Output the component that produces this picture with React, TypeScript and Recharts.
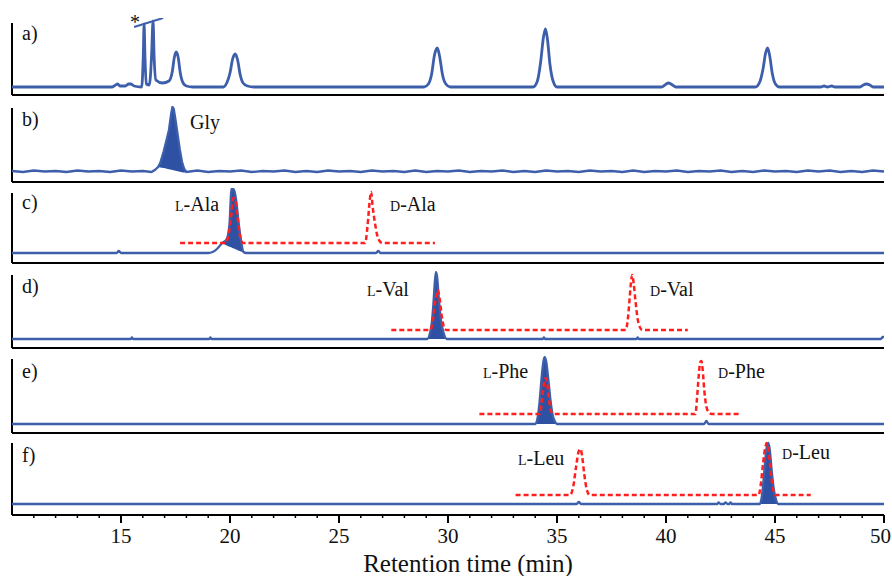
import React from 'react';
import { ComposedChart, Line, Area, XAxis, YAxis, ReferenceLine } from 'recharts';

type Pt = [number, number];
type Band = [number, number, number];

// detector signal, counted upward from each trace's own baseline
const traceA: Pt[] = [
  [10, 0], [14.6, 0], [14.75, 2], [14.85, 3], [14.95, 1], [15.2, 1], [15.35, 3], [15.45, 3], [15.6, 1], [15.95, 0],
  [16.02, 30], [16.06, 63], [16.1, 30], [16.16, 3], [16.3, 2], [16.4, 30], [16.47, 66], [16.52, 30], [16.6, 7],
  [16.9, 4], [17.2, 6], [17.35, 15], [17.45, 30], [17.53, 35], [17.62, 30], [17.72, 14], [17.85, 4], [18.0, 1], [18.3, 0],
  [19.7, 0], [19.85, 4], [20.0, 14], [20.12, 28], [20.24, 33], [20.35, 27], [20.47, 12], [20.6, 4], [20.8, 1], [21.1, 0],
  [28.9, 0], [29.1, 3], [29.25, 13], [29.38, 32], [29.51, 39], [29.62, 30], [29.75, 12], [29.9, 3], [30.1, 0],
  [33.9, 0], [34.1, 6], [34.25, 25], [34.38, 50], [34.47, 58], [34.56, 48], [34.68, 22], [34.82, 6], [35.0, 0],
  [39.8, 0], [39.95, 2], [40.12, 4], [40.3, 2], [40.45, 0],
  [44.1, 0], [44.3, 5], [44.45, 18], [44.57, 34], [44.66, 39], [44.75, 32], [44.88, 13], [45.02, 3], [45.2, 0],
  [47.1, 0], [47.25, 1], [47.4, 0], [47.6, 1], [47.75, 0],
  [48.9, 0], [49.05, 2], [49.2, 3], [49.35, 2], [49.5, 0], [50, 0],
];

const traceB: Pt[] = [
  [10, 1], [10.5, 0], [11, 1.5], [11.5, 0.5], [12, 1], [12.5, 0], [13, 1.5], [13.5, 0.5], [14, 1], [14.5, 0],
  [15, 1.5], [15.5, 0.5], [16, 1], [16.4, 0],
  [16.55, 2], [16.7, 5], [16.8, 9], [16.95, 20], [17.1, 33], [17.2, 42], [17.3, 58], [17.36, 65], [17.42, 63],
  [17.5, 52], [17.6, 37], [17.7, 22], [17.8, 10], [17.9, 3], [18.0, 0],
  [18.5, 1.5], [19, 0], [19.5, 1], [20, 0.5], [20.5, 1.5], [21, 0], [21.5, 1], [22, 0.5], [22.5, 1.5], [23, 0],
  [23.5, 1], [24, 0], [24.5, 1.5], [25, 0.5], [25.5, 1], [26, 0], [26.5, 1.5], [27, 0.5], [27.5, 1], [28, 0],
  [28.5, 1.5], [29, 0], [29.5, 1], [30, 0.5], [30.5, 1.5], [31, 0], [31.5, 1], [32, 0.5], [32.5, 1.5], [33, 0],
  [33.5, 1], [34, 0], [34.5, 1.5], [35, 0.5], [35.5, 1], [36, 0], [36.5, 1.5], [37, 0.5], [37.5, 1], [38, 0],
  [38.5, 1.5], [39, 0], [39.5, 1], [40, 0.5], [40.5, 1.5], [41, 0], [41.5, 1], [42, 0.5], [42.5, 1.5], [43, 0],
  [43.5, 1], [44, 0], [44.5, 1.5], [45, 0.5], [45.5, 1], [46, 0], [46.5, 1.5], [47, 0.5], [47.5, 1.5], [48, 0],
  [48.5, 1], [49, 0], [49.5, 1.5], [50, 0.5],
];
const bandB: Band[] = [
  [16.7, 5, 5], [16.8, 4.6, 9], [16.95, 3.9, 20], [17.1, 3.2, 33], [17.2, 2.7, 42], [17.3, 2.2, 58], [17.36, 2, 65],
  [17.42, 1.7, 63], [17.5, 1.3, 52], [17.6, 0.8, 37], [17.7, 0.3, 22], [17.8, -0.2, 10], [17.9, -0.6, 3], [17.96, -0.8, 1],
];

const traceC: Pt[] = [
  [10, 0], [14.8, 0], [14.9, 2], [15.0, 0], [19.0, 0], [19.2, 1], [19.4, 4], [19.63, 9.7], [19.85, 14], [19.98, 30],
  [20.05, 60], [20.09, 65], [20.2, 62], [20.28, 53], [20.38, 33], [20.5, 13], [20.62, 1], [20.75, 0],
  [26.7, 0], [26.8, 2], [26.9, 0], [50, 0],
];
const bandC: Band[] = [
  [19.63, 9.7, 9.7], [19.85, 7.6, 14], [19.98, 6.3, 30], [20.05, 5.7, 60], [20.09, 5.3, 65], [20.2, 4.2, 62],
  [20.28, 3.5, 53], [20.38, 2.5, 33], [20.5, 1.4, 13], [20.62, 0.2, 1],
];
const stdC: Pt[] = [
  [17.71, 10], [19.8, 10], [19.95, 20], [20.07, 40], [20.15, 55], [20.25, 52], [20.35, 35], [20.45, 18], [20.6, 10],
  [26.2, 10], [26.3, 25], [26.4, 50], [26.47, 61], [26.55, 45], [26.65, 30], [26.75, 18], [26.9, 11], [27.0, 10], [29.4, 10],
];

const traceD: Pt[] = [
  [10, 0], [15.45, 0], [15.5, 1.5], [15.55, 0], [19.05, 0], [19.1, 1.5], [19.15, 0],
  [29.05, 0], [29.15, 4], [29.25, 15], [29.33, 35], [29.4, 58], [29.45, 67], [29.5, 62], [29.58, 40], [29.68, 18],
  [29.8, 6], [29.95, 0], [34.35, 0], [34.4, 1.5], [34.45, 0], [38.65, 0], [38.7, 1.5], [38.75, 0],
  [49.85, 0], [49.95, 2], [50, 2],
];
const bandD: Band[] = [
  [29.05, 0, 0], [29.15, 0, 4], [29.25, 0, 15], [29.33, 0, 35], [29.4, 0, 58], [29.45, 0, 67], [29.5, 0, 62],
  [29.58, 0, 40], [29.68, 0, 18], [29.8, 0, 6], [29.95, 0, 0],
];
const stdD: Pt[] = [
  [27.4, 9], [29.2, 9], [29.3, 18], [29.42, 38], [29.53, 49], [29.62, 40], [29.72, 22], [29.85, 10], [29.95, 9],
  [38.15, 9], [38.25, 20], [38.33, 40], [38.4, 58], [38.45, 64], [38.52, 55], [38.6, 38], [38.7, 20], [38.82, 11],
  [38.92, 9], [41.0, 9],
];

const traceE: Pt[] = [
  [10, 0], [34.0, 0], [34.1, 5], [34.2, 22], [34.3, 48], [34.38, 63], [34.43, 67], [34.5, 63], [34.6, 45], [34.7, 24],
  [34.8, 9], [34.92, 2], [35.0, 0], [41.75, 0], [41.85, 3], [41.95, 0], [50, 0],
];
const bandE: Band[] = [
  [34.0, 0, 0], [34.1, 0, 5], [34.2, 0, 22], [34.3, 0, 48], [34.38, 0, 63], [34.43, 0, 67], [34.5, 0, 63],
  [34.6, 0, 45], [34.7, 0, 24], [34.8, 0, 9], [34.92, 0, 2], [35.0, 0, 0],
];
const stdE: Pt[] = [
  [31.44, 10], [34.22, 10], [34.3, 22], [34.4, 40], [34.47, 46], [34.55, 40], [34.63, 25], [34.72, 13], [34.85, 10],
  [41.35, 10], [41.42, 25], [41.5, 48], [41.57, 62], [41.62, 63], [41.68, 55], [41.75, 35], [41.83, 20], [41.95, 12],
  [42.1, 10], [43.42, 10],
];

const traceF: Pt[] = [
  [10, 0], [35.9, 0], [36.0, 2], [36.1, 0], [42.35, 0], [42.41, 1.5], [42.5, 0], [42.65, 0], [42.73, 1.5], [42.82, 0],
  [42.9, 0], [42.96, 1.5], [43.03, 0], [44.3, 0], [44.4, 8], [44.5, 30], [44.58, 50], [44.65, 60], [44.7, 61],
  [44.76, 54], [44.85, 33], [44.95, 14], [45.05, 4], [45.15, 0], [50, 0],
];
const bandF: Band[] = [
  [44.3, 0, 0], [44.4, 0, 8], [44.5, 0, 30], [44.58, 0, 50], [44.65, 0, 60], [44.7, 0, 61], [44.76, 0, 54],
  [44.85, 0, 33], [44.95, 0, 14], [45.05, 0, 4], [45.15, 0, 0],
];
const stdF: Pt[] = [
  [33.1, 9], [35.6, 9], [35.75, 18], [35.88, 38], [36.0, 53], [36.08, 55], [36.15, 48], [36.25, 30], [36.35, 16],
  [36.5, 9], [44.25, 9], [44.35, 20], [44.45, 40], [44.55, 56], [44.62, 61], [44.7, 53], [44.8, 33], [44.9, 16],
  [45.03, 9], [46.64, 9],
];

const panelNames = ['a)', 'b)', 'c)', 'd)', 'e)', 'f)'];
const timeTicks = [11, 12, 13, 14, 15, 16, 17, 18, 19, 20, 21, 22, 23, 24, 25, 26, 27, 28, 29, 30,
  31, 32, 33, 34, 35, 36, 37, 38, 39, 40, 41, 42, 43, 44, 45, 46, 47, 48, 49, 50];
const xTitle = 'Retention time (min)';

const peakNames = [
  { sc: '', name: 'Gly', x: 190, y: 129 },
  { sc: 'L', name: 'Ala', x: 175, y: 211 },
  { sc: 'D', name: 'Ala', x: 390, y: 211 },
  { sc: 'L', name: 'Val', x: 367, y: 296 },
  { sc: 'D', name: 'Val', x: 650, y: 296 },
  { sc: 'L', name: 'Phe', x: 483, y: 378 },
  { sc: 'D', name: 'Phe', x: 718, y: 378 },
  { sc: 'L', name: 'Leu', x: 518, y: 465 },
  { sc: 'D', name: 'Leu', x: 782, y: 459 },
];

const BLUE = '#3d5eab';
const FILL = '#2f51a3';
const RED = '#ff1f1f';
const FONT = "'Liberation Serif', 'Times New Roman', serif";
const W = 892;

const pts = (a: Pt[]) => a.map(([t, v]) => ({ t, v }));
const band = (a: Band[]) => a.map(([t, lo, hi]) => ({ t, r: [lo, hi] }));

// pixel frame of each stacked panel: top of the plotted range, top of the y line, trace baseline, frame bottom
const panels = [
  { plotTop: 18, axisTop: 23, base: 87, bottom: 95, trace: traceA, width: 2.8, curve: 'monotone' },
  { plotTop: 106, axisTop: 108, base: 172, bottom: 182, trace: traceB, band: bandB, width: 2.3, curve: 'linear' },
  { plotTop: 188, axisTop: 193, base: 253, bottom: 263, trace: traceC, band: bandC, std: stdC, width: 2.3, curve: 'monotone' },
  { plotTop: 271, axisTop: 275, base: 339, bottom: 348, trace: traceD, band: bandD, std: stdD, width: 2.3, curve: 'monotone' },
  { plotTop: 356, axisTop: 359, base: 424, bottom: 433, trace: traceE, band: bandE, std: stdE, width: 2.3, curve: 'monotone' },
  { plotTop: 441, axisTop: 443, base: 504, bottom: 515, trace: traceF, band: bandF, std: stdF, width: 2.3, curve: 'monotone' },
];

const TimeTick = (props: any) => {
  const { x, y, payload } = props;
  const major = payload.value % 5 === 0;
  // keep the last label inside the frame
  const edge = x + 11 > W;
  return (
    <g>
      <line x1={x} x2={x} y1={y} y2={y + (major ? 8 : 3)} stroke="#000" strokeWidth={major ? 2 : 1.5} />
      {major && (
        <text x={edge ? W - 1 : x} y={y + 28} textAnchor={edge ? 'end' : 'middle'} fontSize={21}
          fontFamily={FONT} fill="#111">
          {payload.value}
        </text>
      )}
    </g>
  );
};

const Panel = ({ p, last, first }: { p: any; last: boolean; first: boolean }) => {
  const axisH = last ? 60 : 4;
  const lo = -(p.bottom - p.base);
  const hi = p.base - p.plotTop;
  return (
    <div style={{ position: 'absolute', left: 0, top: p.plotTop }}>
      <ComposedChart width={W} height={p.bottom - p.plotTop + axisH} margin={{ top: 0, right: 8, bottom: 0, left: 12 }}>
        {last ? (
          <XAxis type="number" dataKey="t" domain={[10, 50]} ticks={timeTicks} interval={0} height={axisH}
            tickLine={false} tickSize={0} tickMargin={0} tick={<TimeTick />}
            axisLine={{ stroke: '#000', strokeWidth: 2 }} />
        ) : (
          <XAxis type="number" dataKey="t" domain={[10, 50]} height={axisH} tick={false} tickLine={false}
            axisLine={{ stroke: '#000', strokeWidth: 2 }} />
        )}
        <YAxis hide type="number" domain={[lo, hi]} />
        <ReferenceLine segment={[{ x: 10, y: lo }, { x: 10, y: p.base - p.axisTop }]} stroke="#000" strokeWidth={2} />
        {first && (
          // break mark across the two clipped solvent spikes
          <ReferenceLine segment={[{ x: 15.6, y: 60 }, { x: 16.93, y: 69 }]} stroke={BLUE} strokeWidth={2} />
        )}
        <Line data={pts(p.trace)} dataKey="v" type={p.curve} stroke={BLUE} strokeWidth={p.width}
          dot={false} activeDot={false} isAnimationActive={false} />
        {p.band && (
          <Area data={band(p.band)} dataKey="r" type="monotone" stroke="none" fill={FILL} fillOpacity={1}
            dot={false} activeDot={false} isAnimationActive={false} />
        )}
        {p.std && (
          <Line data={pts(p.std)} dataKey="v" type="monotone" stroke={RED} strokeWidth={2.5}
            strokeDasharray="5 3" dot={false} activeDot={false} isAnimationActive={false} />
        )}
      </ComposedChart>
    </div>
  );
};

const labelBase = [40, 126, 209, 293, 378, 462];

export default function App() {
  return (
    <div style={{ position: 'absolute', left: 0, top: 0, width: W, height: 576, background: '#fff' }}>
      {panels.map((p, i) => (
        <Panel key={i} p={p} first={i === 0} last={i === panels.length - 1} />
      ))}
      <svg width={W} height={576} style={{ position: 'absolute', left: 0, top: 0, pointerEvents: 'none' }}
        fontFamily={FONT} fill="#111">
        {panelNames.map((n, i) => (
          <text key={n} x={22} y={labelBase[i]} fontSize={20}>{n}</text>
        ))}
        <text x={130} y={29} fontSize={20}>*</text>
        {peakNames.map((l, i) => (
          <text key={i} x={l.x} y={l.y} fontSize={20}>
            {l.sc && <tspan fontSize={14}>{l.sc}</tspan>}
            {l.sc ? '-' : ''}{l.name}
          </text>
        ))}
        <text x={468} y={572} fontSize={25} textAnchor="middle">{xTitle}</text>
      </svg>
    </div>
  );
}
